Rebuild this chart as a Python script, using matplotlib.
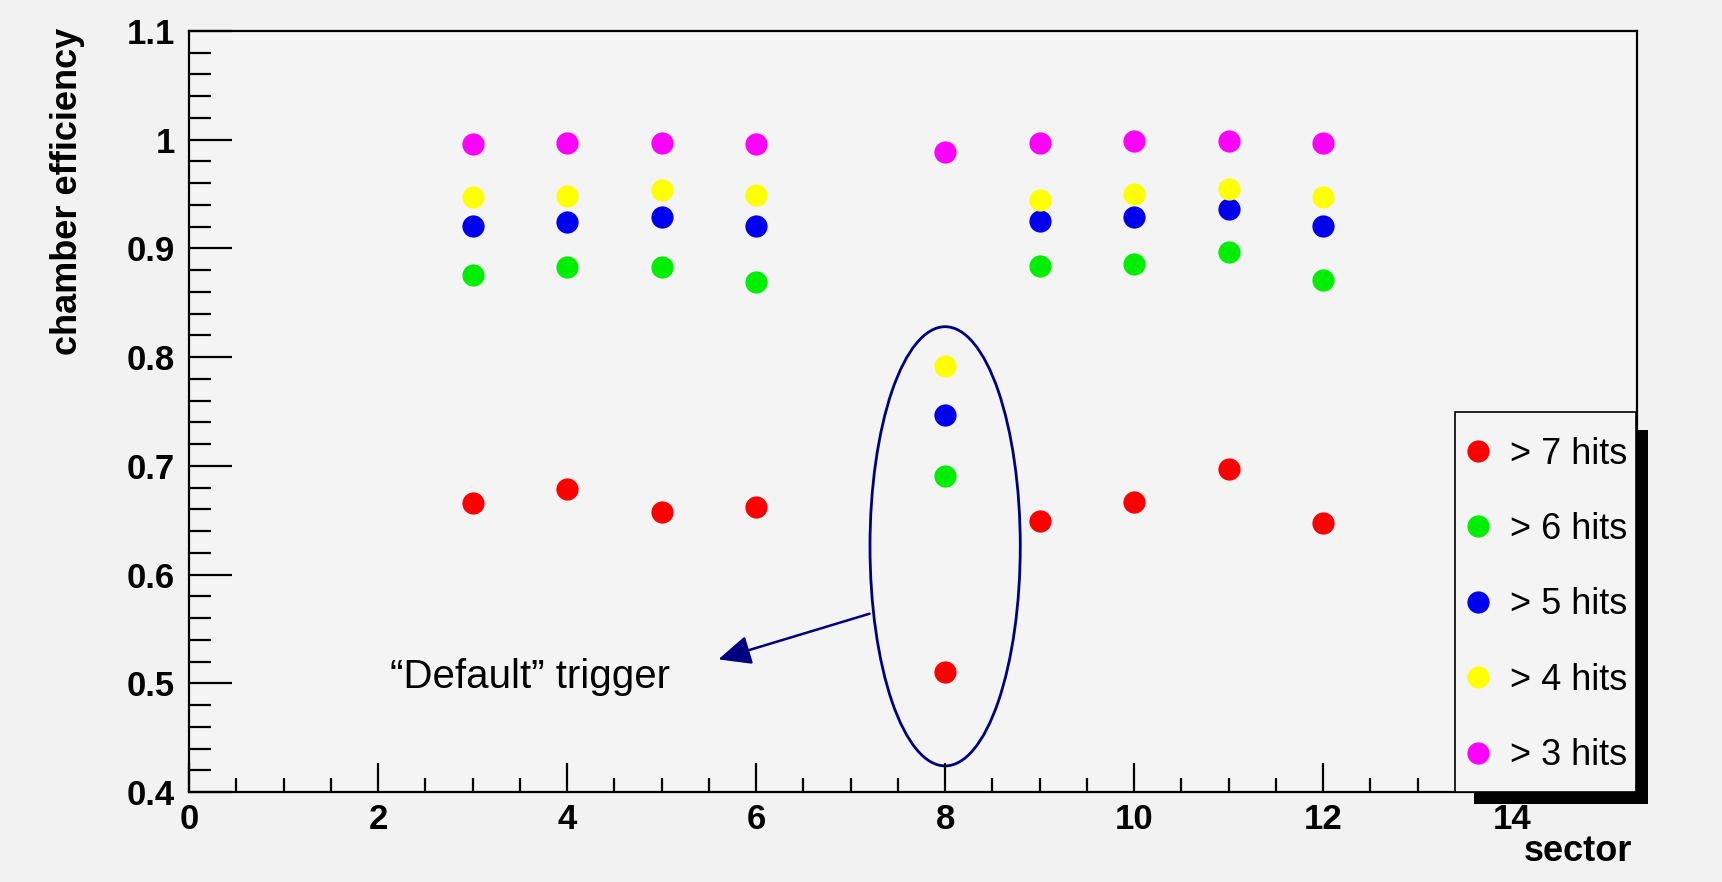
import matplotlib
matplotlib.use("Agg")
import matplotlib.pyplot as plt
from matplotlib.patches import Ellipse, Rectangle
from matplotlib.ticker import MultipleLocator

plt.rcParams['font.family'] = ['Liberation Sans', 'DejaVu Sans']

# sectors and efficiencies
sectors = [3, 4, 5, 6, 8, 9, 10, 11, 12]
eff_gt7 = [0.666, 0.679, 0.658, 0.662, 0.510, 0.649, 0.667, 0.697, 0.647]
eff_gt6 = [0.876, 0.883, 0.883, 0.869, 0.691, 0.884, 0.886, 0.897, 0.871]
eff_gt5 = [0.921, 0.924, 0.929, 0.921, 0.747, 0.925, 0.929, 0.936, 0.921]
eff_gt4 = [0.947, 0.948, 0.954, 0.949, 0.792, 0.945, 0.950, 0.955, 0.947]
eff_gt3 = [0.996, 0.997, 0.997, 0.996, 0.989, 0.997, 0.999, 0.999, 0.997]

series = [eff_gt7, eff_gt6, eff_gt5, eff_gt4, eff_gt3]
labels = ["> 7 hits", "> 6 hits", "> 5 hits", "> 4 hits", "> 3 hits"]
colors = ["#ff0000", "#00ee00", "#0000ee", "#ffff00", "#ff00ff"]

W, H = 1722, 882
fig = plt.figure(figsize=(W / 100, H / 100), dpi=100, facecolor="#f2f2f2")
ax = fig.add_axes([189 / W, (H - 792) / H, (1637 - 189) / W, (792 - 31) / H])
ax.set_facecolor("#f4f4f4")

handles = []
for vals, lab, c in zip(series, labels, colors):
    h, = ax.plot(sectors, vals, "o", color=c, markersize=16, markeredgewidth=0, label=lab)
    handles.append(h)

ax.set_xlim(0, 15.32)
ax.set_ylim(0.4, 1.1)

# ROOT style axes: inward ticks only on left/bottom
ax.xaxis.set_major_locator(MultipleLocator(2))
ax.xaxis.set_minor_locator(MultipleLocator(0.5))
ax.yaxis.set_major_locator(MultipleLocator(0.1))
ax.yaxis.set_minor_locator(MultipleLocator(0.02))
ax.yaxis.set_major_formatter(matplotlib.ticker.FuncFormatter(lambda v, p: f"{v:g}"))
ax.tick_params(axis="both", which="both", direction="in", top=False, right=False, width=1.6)
ax.tick_params(axis="y", which="major", length=31, pad=10, labelsize=25)
ax.tick_params(axis="y", which="minor", length=16)
ax.tick_params(axis="x", which="major", length=21, pad=8, labelsize=25)
ax.tick_params(axis="x", which="minor", length=10)
for lab in ax.get_xticklabels() + ax.get_yticklabels():
    lab.set_fontweight("bold")
for s in ax.spines.values():
    s.set_linewidth(1.6)

ax.set_ylabel("chamber efficiency", fontsize=26, fontweight="bold", loc="top")
ax.yaxis.set_label_coords((85 - 189) / 1448, (792 - 28) / 761)
ax.set_xlabel("sector", fontsize=26, fontweight="bold", loc="right")
ax.xaxis.set_label_coords((1632 - 189) / 1448, (792 - 834) / 761)

# highlight of sector 8
ax.add_patch(Ellipse((8, 0.626), 1.59, 0.404, fill=False, edgecolor="#000080", linewidth=2.0))
ax.annotate("", xy=(5.60, 0.522), xytext=(7.20, 0.564),
            arrowprops=dict(arrowstyle="-|>,head_length=1.0,head_width=0.45", mutation_scale=20,
                            color="#000080", linewidth=1.8, shrinkA=0, shrinkB=0))
ax.text(2.13, 0.496, "\u201cDefault\u201d trigger", fontsize=29, ha="left", va="baseline")

# legend box with ROOT-like black shadow
fig.patches.append(Rectangle((1474 / W, (H - 804) / H), (1648 - 1474) / W, (804 - 430) / H,
                             transform=fig.transFigure, facecolor="black", edgecolor="none", zorder=3))
fig.patches.append(Rectangle((1455 / W, (H - 792) / H), (1636 - 1455) / W, (792 - 412) / H,
                             transform=fig.transFigure, facecolor="#f4f4f4", edgecolor="black",
                             linewidth=1.2, zorder=4))
leg = fig.legend(handles=handles, loc="center", bbox_to_anchor=((1455 + 1636) / 2 / W, (H - 605) / H),
                 frameon=False, fontsize=26, labelspacing=1.12, handlelength=0.8,
                 handletextpad=0.5, markerscale=1.0)
leg.set_zorder(5)

fig.savefig("out.png", dpi=100, facecolor=fig.get_facecolor())
